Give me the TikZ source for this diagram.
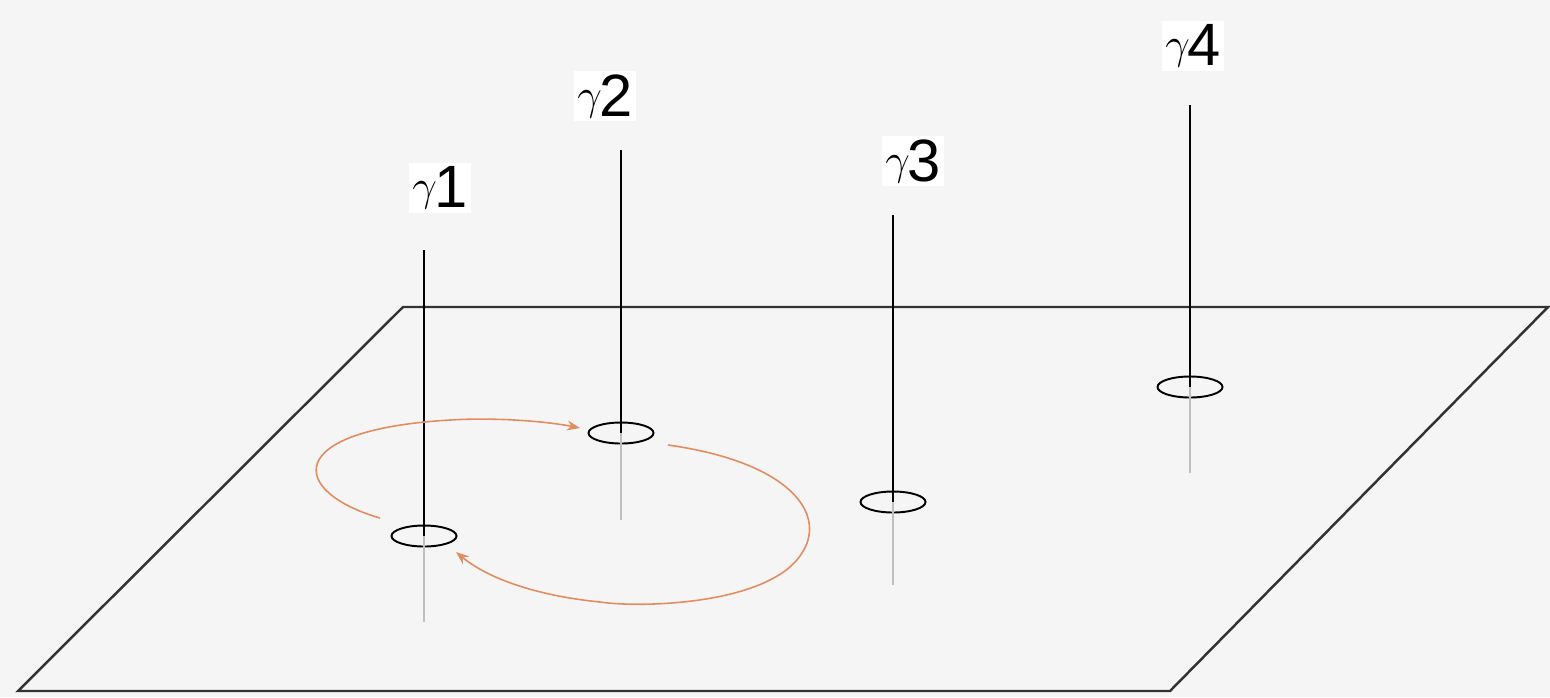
\documentclass[tikz,border=0pt]{standalone}
\usepackage{amsmath,amssymb}
\usepackage{fontspec}
\setsansfont{Liberation Sans}
\usetikzlibrary{arrows.meta,positioning,shapes.geometric,calc}
\definecolor{bgpaper}{RGB}{245,245,245}
\definecolor{planeline}{RGB}{50,50,50}
\definecolor{swaporange}{RGB}{226,140,95}
\newcommand{\glabel}[1]{$\gamma$\kern-0.04em\raisebox{-0.28ex}{\sffamily #1}}

\begin{document}
\begin{tikzpicture}[
  x=0.02cm,y=-0.02cm,
  plane/.style={draw=planeline, line width=1.4pt, line join=miter},
  strand/.style={draw=black, line width=1.2pt},
  below/.style={draw=black!25, line width=0.8pt},
  hole/.style={draw=black, ellipse, line width=1.1pt, minimum width=1.3cm, minimum height=0.42cm, inner sep=0pt},
  lab/.style={fill=white, inner sep=2pt, font=\fontsize{34}{38}\selectfont},
  swap/.style={draw=swaporange, line width=0.9pt, -{Stealth[length=2.6mm,width=2mm]}}
]
\fill[bgpaper] (0,0) rectangle (1550,697);
\useasboundingbox (0,0) rectangle (1550,697);

% the plane
\coordinate (pbl) at (18,691);
\coordinate (pbr) at (1170,691);
\coordinate (ptr) at (1548,307);
\coordinate (ptl) at (403,307);
\draw[plane] (pbl) -- (pbr) -- (ptr) -- (ptl) -- cycle;

% the four strands
\node[hole] (h1) at (424,536) {};
\node[hole] (h2) at (621,433) {};
\node[hole] (h3) at (893,502) {};
\node[hole] (h4) at (1190,387) {};

\coordinate (t1) at (424,250);
\coordinate (t2) at (621,150);
\coordinate (t3) at (893,215);
\coordinate (t4) at (1190,105);
\coordinate (b1) at (424,622);
\coordinate (b2) at (621,520);
\coordinate (b3) at (893,585);
\coordinate (b4) at (1190,473);

\draw[strand] (t1) -- (h1.center);
\draw[strand] (t2) -- (h2.center);
\draw[strand] (t3) -- (h3.center);
\draw[strand] (t4) -- (h4.center);
\draw[below] (h1.center) -- (b1);
\draw[below] (h2.center) -- (b2);
\draw[below] (h3.center) -- (b3);
\draw[below] (h4.center) -- (b4);

\node[lab] (g1) at (440,188) {\glabel{1}};
\node[lab] (g2) at (605,96) {\glabel{2}};
\node[lab] (g3) at (913,161) {\glabel{3}};
\node[lab] (g4) at (1193,46) {\glabel{4}};

% exchange of the first two
\coordinate (s1) at (380,518);
\coordinate (e1) at (580,428);
\coordinate (s2) at (668,445);
\coordinate (e2) at (456,552);
\draw[swap] (s1) .. controls (290,492) and (280,430) .. (450,420) .. controls (500,417) and (550,422) .. (e1);
\draw[swap] (s2) .. controls (790,462) and (830,515) .. (800,556) .. controls (765,605) and (640,608) .. (600,602) .. controls (540,596) and (490,580) .. (e2);
\end{tikzpicture}
\end{document}
